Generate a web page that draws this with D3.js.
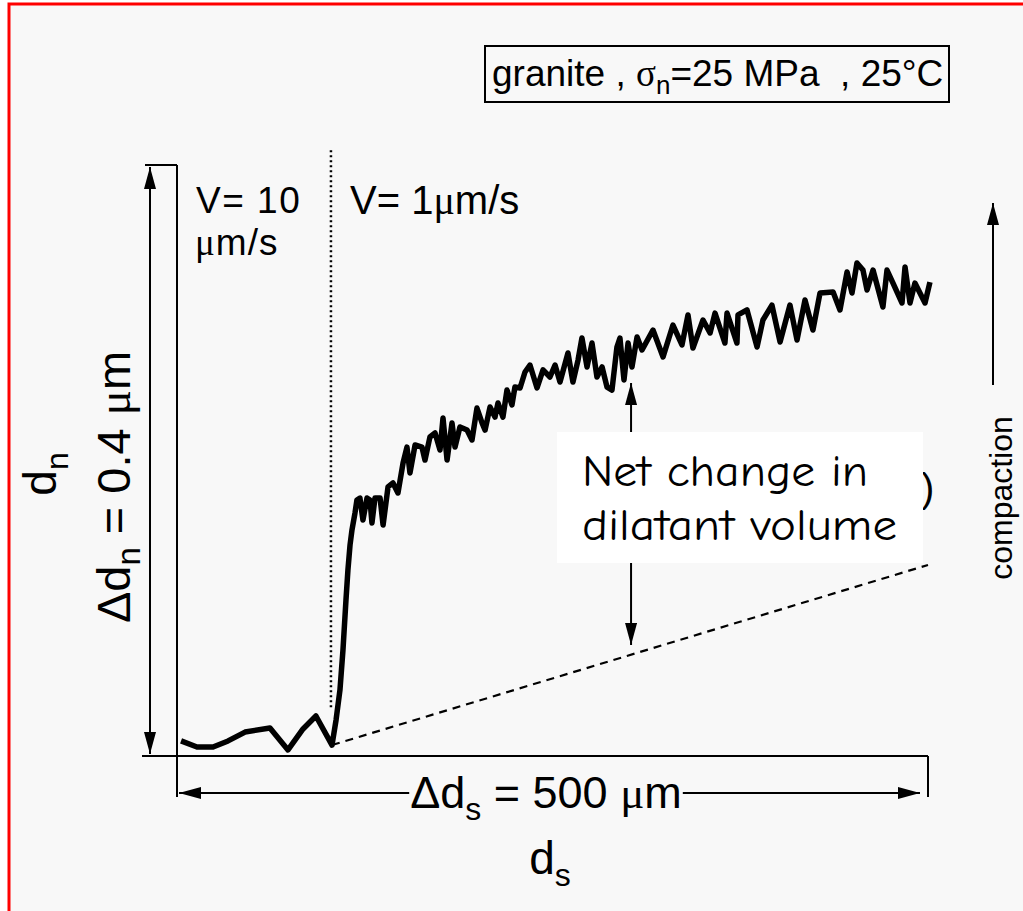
<!DOCTYPE html>
<html><head><meta charset="utf-8">
<script src="https://cdn.jsdelivr.net/npm/d3@7"></script>
<style>body{margin:0;background:#fff;} svg{display:block;}</style>
</head><body><svg id="c" width="1023" height="911"></svg>
<script>
// shear displacement d_s (µm) and normal displacement d_n (nm)
const dsValues = [2.7,13.3,24.0,34.0,45.3,61.9,73.9,83.9,92.5,103.2,
105.9,108.5,110.5,112.5,113.8,115.2,116.5,118.5,119.8,121.8,
123.8,126.5,128.5,129.8,131.8,135.2,137.2,140.5,143.8,147.1,
150.5,153.1,155.1,158.5,163.1,165.1,168.4,171.8,175.1,177.1,
179.8,183.1,185.1,188.4,193.1,196.4,199.7,203.1,205.1,208.4,
211.7,213.7,217.0,219.7,223.0,225.0,228.4,231.7,235.0,239.7,
243.7,248.3,251.7,255.0,260.3,263.6,267.0,269.6,273.0,276.3,
279.6,283.0,286.3,289.6,292.9,294.9,297.6,300.3,302.9,306.3,
309.6,316.9,323.6,330.2,336.2,340.2,343.5,350.2,354.9,358.2,
364.8,366.2,372.8,373.5,379.5,386.2,390.1,396.1,401.5,408.1,
412.8,418.1,423.4,428.1,436.8,441.4,446.1,449.4,452.7,456.7,
459.4,463.4,470.0,472.7,476.7,482.7,484.7,488.0,491.3,498.0,501.3];
const dnValues = [10.2,6.1,6.1,10.2,16.2,19.0,4.1,18.3,27.1,7.4,
24.4,44.7,71.7,105.6,125.9,142.8,153.0,164.5,173.3,174.6,
159.7,174.6,173.3,157.7,174.6,174.6,156.3,182.1,184.8,178.0,
198.3,209.1,191.5,210.5,209.1,200.3,215.9,218.6,207.1,228.8,
200.3,225.4,209.1,222.7,220.6,213.9,235.5,225.4,220.6,236.2,
229.4,238.9,229.4,247.7,237.6,249.7,249.1,259.9,264.6,249.1,
261.3,256.5,264.6,253.1,272.8,253.1,268.0,282.9,263.3,279.5,
256.5,263.3,249.7,247.7,276.8,282.9,254.5,279.5,263.3,283.6,
274.8,288.3,270.1,291.7,278.2,298.5,276.1,295.1,286.3,299.8,
279.5,299.8,279.5,298.5,301.9,276.8,295.1,305.2,280.2,305.2,
281.6,308.6,288.3,313.4,314.0,301.9,327.6,313.4,333.7,328.9,
315.4,328.9,303.9,328.9,320.1,306.6,331.0,306.6,320.1,306.6,320.8];
// reference (no dilatancy) line, velocity step, net-change arrow
const baselineDs = [103.2, 500];
const baselineDn = [7.4, 129.3];
const velocityStepDs = 102.5;
const velocityStepDn = [410, 33];
const netChangeDs = 302.3;
const netChangeDn = [252.5, 75.1];
const xDomain = [0, 500];   // Δd_s = 500 µm
const yDomain = [0, 400];   // Δd_n = 0.4 µm (nm)

const svg = d3.select("#c");
const x = d3.scaleLinear().domain(xDomain).range([177, 928]);
const y = d3.scaleLinear().domain(yDomain).range([756, 165]);
const font = "'Liberation Sans', Arial, Helvetica, sans-serif";
const serif = "'Liberation Serif', serif";

// background + red frame
svg.append("rect").attr("x",9).attr("y",4).attr("width",1100).attr("height",1000)
  .attr("fill","#f8f8f8").attr("stroke","#ff0000").attr("stroke-width",3);

const defs = svg.append("defs");
defs.append("marker").attr("id","ah").attr("viewBox","0 0 22 12")
  .attr("refX",22).attr("refY",6).attr("markerWidth",22).attr("markerHeight",12)
  .attr("markerUnits","userSpaceOnUse").attr("orient","auto-start-reverse")
  .append("path").attr("d","M0,0L22,6L0,12Z").attr("fill","#000");

const g = svg.append("g");
const ln = (x1,y1,x2,y2,w=2) => g.append("line").attr("x1",x1).attr("y1",y1)
  .attr("x2",x2).attr("y2",y2).attr("stroke","#000").attr("stroke-width",w);

// axes
ln(x(0), y(400), x(0), 797);          // y axis
ln(145, y(400), x(0), y(400));        // top tick
ln(142, y(0), x(500), y(0));          // x axis
ln(x(500), y(0), x(500), 797);        // right tick

// Δd_n double arrow
ln(150, y(400)+2, 150, y(0)-2).attr("marker-start","url(#ah)").attr("marker-end","url(#ah)");

// velocity step dotted line
ln(x(velocityStepDs), y(velocityStepDn[0]), x(velocityStepDs), y(velocityStepDn[1]), 2.5)
  .attr("stroke-dasharray","2,3");

// dashed reference line
ln(x(baselineDs[0]), y(baselineDn[0]), x(baselineDs[1]), y(baselineDn[1]), 2.2)
  .attr("stroke-dasharray","8,6");

// trace
const pts = dsValues.map((d,i)=>[d, dnValues[i]]);
g.append("path").datum(pts)
  .attr("d", d3.line().x(d=>x(d[0])).y(d=>y(d[1])))
  .attr("fill","none").attr("stroke","#000").attr("stroke-width",5.5)
  .attr("stroke-linejoin","round");

// net change double arrow
ln(x(netChangeDs), y(netChangeDn[0]), x(netChangeDs), y(netChangeDn[1]))
  .attr("marker-start","url(#ah)").attr("marker-end","url(#ah)");

// hidden text fragment behind box
g.append("text").attr("x",921).attr("y",502).attr("font-family",font)
  .attr("font-size",40).text(")");

// white box
g.append("rect").attr("x",557).attr("y",432).attr("width",366).attr("height",131).attr("fill","#fff");
const comic = "'Comic Sans MS', 'Comic Neue', 'Noto Sans', sans-serif";
g.append("text").attr("x",582).attr("y",486).attr("font-family",comic).attr("font-size",44)
  .attr("textLength",286).attr("lengthAdjust","spacingAndGlyphs").text("Net change in");
g.append("text").attr("x",582).attr("y",540).attr("font-family",comic).attr("font-size",44)
  .attr("textLength",315).attr("lengthAdjust","spacingAndGlyphs").text("dilatant volume");

// compaction arrow
ln(993, 385, 993, 203).attr("marker-end","url(#ah)");
g.append("text").attr("transform","translate(1012,498) rotate(-90)")
  .attr("text-anchor","middle").attr("font-family",font).attr("font-size",32).text("compaction");

// title box
g.append("rect").attr("x",485).attr("y",46).attr("width",464).attr("height",56)
  .attr("fill","none").attr("stroke","#000").attr("stroke-width",2);
const t = g.append("text").attr("x",492).attr("y",86).attr("font-family",font).attr("font-size",37);
t.append("tspan").text("granite , ");
t.append("tspan").attr("font-family",serif).text("σ");
t.append("tspan").attr("font-size",26).attr("dy",8).text("n");
t.append("tspan").attr("dy",-8).text("=25 MPa\u00a0\u00a0, 25°C");

// velocity labels
g.append("text").attr("x",196).attr("y",213).attr("font-family",font).attr("font-size",37)
  .attr("letter-spacing",1.5).text("V= 10");
const t2 = g.append("text").attr("x",195).attr("y",255).attr("font-family",font).attr("font-size",37)
  .attr("letter-spacing",1);
t2.append("tspan").attr("font-family",serif).text("μ");
t2.append("tspan").text("m/s");
const t3 = g.append("text").attr("x",350).attr("y",214).attr("font-family",font).attr("font-size",40);
t3.append("tspan").text("V= 1");
t3.append("tspan").attr("font-family",serif).text("μ");
t3.append("tspan").text("m/s");

// left labels
const dnl = g.append("text").attr("transform","translate(56,474) rotate(-90)")
  .attr("text-anchor","middle").attr("font-family",font).attr("font-size",46);
dnl.append("tspan").text("d");
dnl.append("tspan").attr("font-size",32).attr("dy",12).text("n");
const ddn = g.append("text").attr("transform","translate(130,487) rotate(-90)")
  .attr("text-anchor","middle").attr("font-family",font).attr("font-size",47);
ddn.append("tspan").text("Δd");
ddn.append("tspan").attr("font-size",33).attr("dy",10).text("n");
ddn.append("tspan").attr("dy",-10).text(" = 0.4 ");
ddn.append("tspan").attr("font-family",serif).text("μ");
ddn.append("tspan").text("m");

// Δd_s arrow with label
const dsl = g.append("text").attr("x",546).attr("y",808).attr("text-anchor","middle")
  .attr("font-family",font).attr("font-size",45);
dsl.append("tspan").text("Δd");
dsl.append("tspan").attr("font-size",32).attr("dy",12).text("s");
dsl.append("tspan").attr("dy",-12).text(" = 500 ");
dsl.append("tspan").attr("font-family",serif).text("μ");
dsl.append("tspan").text("m");
const bb = dsl.node().getBBox();
ln(x(0)+2, 793, bb.x-1, 793).attr("marker-start","url(#ah)");
ln(bb.x+bb.width+1, 793, x(500)-8, 793).attr("marker-end","url(#ah)");

// d_s label
const dsx = g.append("text").attr("x",550).attr("y",874).attr("text-anchor","middle")
  .attr("font-family",font).attr("font-size",46);
dsx.append("tspan").text("d");
dsx.append("tspan").attr("font-size",32).attr("dy",12).text("s");
</script></body></html>
